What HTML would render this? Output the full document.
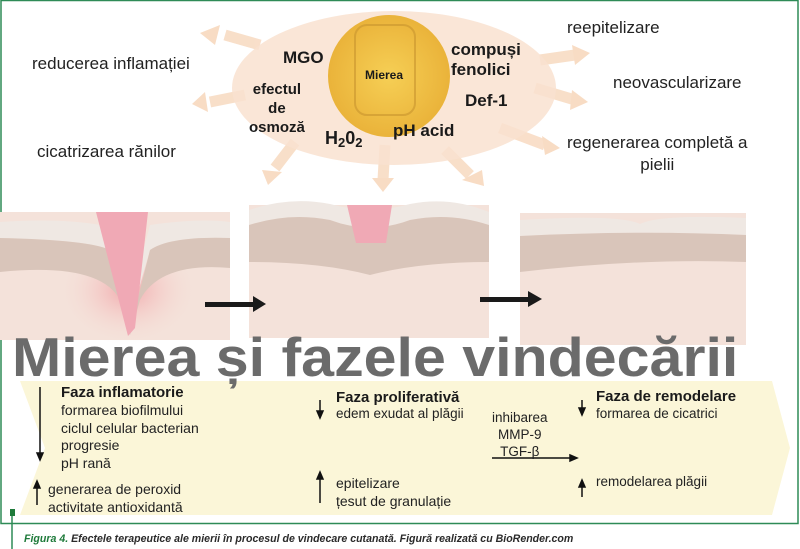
<!DOCTYPE html>
<html><head><meta charset="utf-8"><style>
body{margin:0;width:800px;height:549px;overflow:hidden;background:#fff;font-family:"Liberation Sans",sans-serif;position:relative}
.t{position:absolute;white-space:nowrap;color:#222}
.b{font-weight:bold;color:#1a1a1a}
</style></head><body>
<svg width="800" height="549" style="position:absolute;left:0;top:0">
<defs>
<radialGradient id="g" cx="50%" cy="50%" r="50%"><stop offset="0" stop-color="#f6cf55"/><stop offset="1" stop-color="#eab33a"/></radialGradient>
<radialGradient id="red" cx="50%" cy="50%" r="50%"><stop offset="0" stop-color="#f29aa0" stop-opacity="0.8"/><stop offset="1" stop-color="#f4e2da" stop-opacity="0"/></radialGradient>
</defs>
<rect x="1" y="0.5" width="797" height="523" fill="none" stroke="#2e8b57" stroke-width="1.5"/>
<g stroke="#f8dcc4" stroke-width="11" fill="none" opacity="0.9">
<line x1="260" y1="45" x2="225" y2="35"/><line x1="245" y1="95" x2="210" y2="102"/>
<line x1="295" y1="142" x2="275" y2="168"/><line x1="385" y1="145" x2="383" y2="180"/>
<line x1="445" y1="150" x2="470" y2="175"/><line x1="500" y1="128" x2="545" y2="145"/>
<line x1="535" y1="88" x2="575" y2="100"/><line x1="540" y1="60" x2="575" y2="55"/>
</g>
<g fill="#f8dcc4"><polygon points="220,25 215,45 200,33"/><polygon points="205,92 208,112 192,104"/><polygon points="262,170 282,172 268,185"/><polygon points="372,178 394,178 383,192"/><polygon points="462,180 482,170 484,186"/><polygon points="542,136 545,155 560,148"/><polygon points="572,90 570,110 588,102"/><polygon points="572,45 575,65 590,53"/></g>
<ellipse cx="394" cy="88" rx="162" ry="77" fill="#f9e2d0" opacity="0.85"/>
<circle cx="389" cy="76" r="61" fill="url(#g)"/>
<rect x="355" y="25" width="60" height="90" rx="12" fill="none" stroke="#c8952e" stroke-width="2" opacity="0.6"/>
<rect x="0" y="212" width="230" height="128" fill="#f4e2da"/>
<ellipse cx="128" cy="290" rx="70" ry="55" fill="url(#red)"/>
<path d="M0 222 Q60 218 100 225 L130 300 L150 225 Q200 218 230 222 L230 238 Q170 236 150 250 L130 320 L110 250 Q90 240 0 238Z" fill="#efe8e3"/>
<path d="M0 238 Q90 240 110 250 L130 330 L150 250 Q170 236 230 238 L230 268 Q160 262 140 300 L130 335 L120 300 Q100 262 0 272Z" fill="#d9c5ba"/>
<polygon points="96,212 148,212 135,328 128,336" fill="#f0a9b5"/>
<rect x="249" y="205" width="240" height="133" fill="#f4e2da"/>
<path d="M249 210 Q290 196 330 204 Q370 215 410 204 Q450 196 489 212 L489 225 Q450 212 410 220 Q370 235 330 220 Q290 212 249 225Z" fill="#efe8e3"/>
<path d="M249 225 Q290 212 330 220 Q370 235 410 220 Q450 212 489 225 L489 262 Q420 262 370 275 Q320 262 249 262Z" fill="#d9c5ba"/>
<path d="M347 205 L392 205 L386 243 L356 243Z" fill="#f0a9b5"/>
<rect x="520" y="213" width="226" height="132" fill="#f4e2da"/>
<path d="M520 220 Q620 214 640 224 Q660 214 746 218 L746 235 Q640 230 520 236Z" fill="#efe8e3"/>
<path d="M520 236 Q640 230 746 235 L746 262 Q640 258 520 272Z" fill="#d9c5ba"/>
<g fill="#1a1a1a"><rect x="205" y="302" width="50" height="5"/><polygon points="253,296 266,304 253,312"/>
<rect x="480" y="297" width="50" height="5"/><polygon points="528,291 542,299 528,307"/></g>
<polygon points="20,381 772,381 790,448 772,515 20,515 45,448" fill="#fbf6d8"/>
<g stroke="#111" stroke-width="1.5" fill="#111">
<line x1="40" y1="387" x2="40" y2="455"/><polygon points="37,453 43,453 40,460"/>
<line x1="37" y1="484" x2="37" y2="505"/><polygon points="34,488 40,488 37,481"/>
<line x1="320" y1="400" x2="320" y2="413"/><polygon points="317,411 323,411 320,418"/>
<line x1="320" y1="475" x2="320" y2="503"/><polygon points="317,479 323,479 320,472"/>
<line x1="582" y1="400" x2="582" y2="410"/><polygon points="579,408 585,408 582,415"/>
<line x1="582" y1="483" x2="582" y2="497"/><polygon points="579,487 585,487 582,480"/>
<line x1="492" y1="458" x2="572" y2="458"/><polygon points="570,455 577,458 570,461"/>
</g>
<line x1="12" y1="515" x2="12" y2="549" stroke="#2e8b57" stroke-width="1.5"/>
<rect x="10" y="509" width="5" height="7" fill="#1e7a3a"/>
</svg>
<div class="t" style="left:32px;top:54px;font-size:17px">reducerea inflamației</div>
<div class="t" style="left:37px;top:142px;font-size:17px">cicatrizarea rănilor</div>
<div class="t" style="left:567px;top:18px;font-size:17px">reepitelizare</div>
<div class="t" style="left:613px;top:73px;font-size:17px">neovascularizare</div>
<div class="t" style="left:567px;top:132px;font-size:17px;line-height:22px;text-align:center">regenerarea completă a<br>pielii</div>
<div class="t b" style="left:283px;top:48px;font-size:17px">MGO</div>
<div class="t b" style="left:365px;top:68px;font-size:12px">Mierea</div>
<div class="t b" style="left:451px;top:40px;font-size:17px;line-height:20px">compuși<br>fenolici</div>
<div class="t b" style="left:465px;top:91px;font-size:17px">Def-1</div>
<div class="t b" style="left:249px;top:80px;font-size:15px;line-height:19px;text-align:center">efectul<br>de<br>osmoză</div>
<div class="t b" style="left:325px;top:128px;font-size:18px">H<span style="font-size:13px;vertical-align:-3px">2</span>0<span style="font-size:13px;vertical-align:-3px">2</span></div>
<div class="t b" style="left:393px;top:121px;font-size:17px">pH acid</div>
<div class="t" style="left:12px;top:325px;font-size:55px;font-weight:bold;color:#6b6b6b;transform:scaleX(1.075);transform-origin:0 0">Mierea și fazele vindecării</div>
<div class="t b" style="left:61px;top:384px;font-size:15px">Faza inflamatorie</div>
<div class="t" style="left:61px;top:402px;font-size:14px;line-height:17.5px">formarea biofilmului<br>ciclul celular bacterian<br>progresie<br>pH rană</div>
<div class="t" style="left:48px;top:481px;font-size:14px;line-height:17.5px">generarea de peroxid<br>activitate antioxidantă</div>
<div class="t b" style="left:336px;top:389px;font-size:15px">Faza proliferativă</div>
<div class="t" style="left:336px;top:406px;font-size:13.5px">edem exudat al plăgii</div>
<div class="t" style="left:336px;top:475px;font-size:14px;line-height:17.5px">epitelizare<br>țesut de granulație</div>
<div class="t" style="left:492px;top:409px;font-size:13.5px;line-height:17px;text-align:center">inhibarea<br>MMP-9<br>TGF-β</div>
<div class="t b" style="left:596px;top:388px;font-size:15px">Faza de remodelare</div>
<div class="t" style="left:596px;top:406px;font-size:13.5px">formarea de cicatrici</div>
<div class="t" style="left:596px;top:474px;font-size:13.5px">remodelarea plăgii</div>
<div class="t" style="left:24px;top:533px;font-size:10.6px;font-style:italic;font-weight:bold;color:#2a2a2a"><span style="color:#1e7a3a">Figura 4.</span> Efectele terapeutice ale mierii în procesul de vindecare cutanată. Figură realizată cu BioRender.com</div>
</body></html>
